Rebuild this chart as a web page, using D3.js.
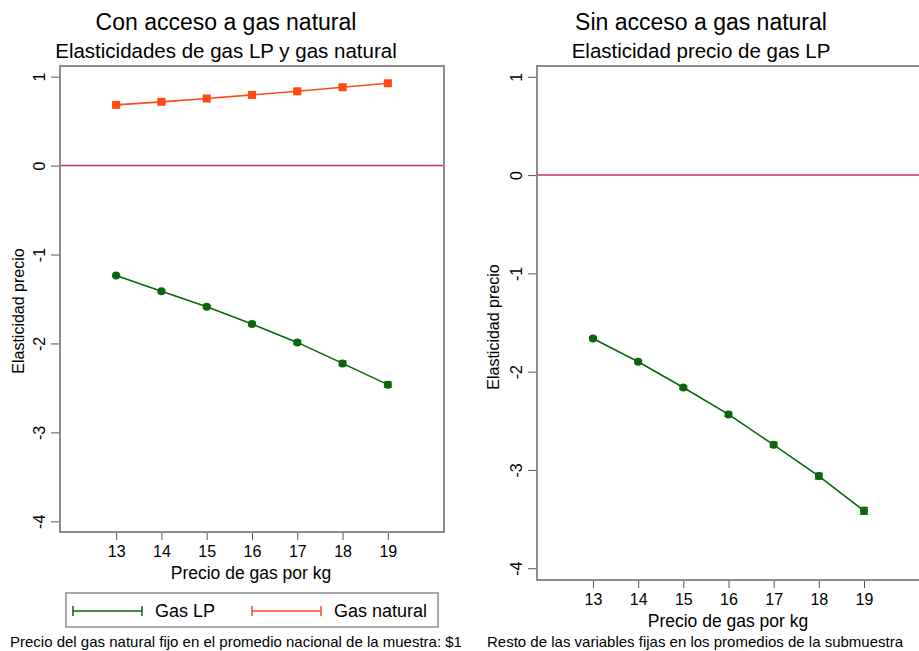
<!DOCTYPE html>
<html>
<head>
<meta charset="utf-8">
<script src="https://cdn.jsdelivr.net/npm/d3@7"></script>
<style>
  body { margin: 0; background: #fff; }
  svg { display: block; font-family: "Liberation Sans", Arial, sans-serif; }
</style>
</head>
<body>
<div id="chart"></div>
<script>
// data
const prices = [13, 14, 15, 16, 17, 18, 19];
const yTicks = [1, 0, -1, -2, -3, -4];

const lpCon = [-1.237, -1.414, -1.586, -1.781, -1.988, -2.224, -2.463];
const lpConCi = [0.010, 0.012, 0.014, 0.017, 0.020, 0.024, 0.028];
const gnCon = [0.683, 0.717, 0.754, 0.795, 0.836, 0.881, 0.926];
const gnConCi = [0.012, 0.013, 0.015, 0.017, 0.020, 0.024, 0.028];
const lpSin = [-1.662, -1.900, -2.161, -2.435, -2.745, -3.063, -3.416];
const lpSinCi = [0.012, 0.014, 0.017, 0.020, 0.024, 0.028, 0.033];

const legendLabels = ["Gas LP", "Gas natural"];
const green = "#0b650b";
const orange = "#ff4a12";
const zeroColor = "#d42a5a";
const frameColor = "#8c8c8c";

const width = 919, height = 651;

const svg = d3.select("#chart").append("svg")
  .attr("width", width)
  .attr("height", height);

const drawPanel = (p) => {
  const x = d3.scaleLinear().domain([11.76, 20.24]).range([p.left, p.right]);
  const y = d3.scaleLinear().domain([-4.12, p.yTop]).range([p.bottom, p.top]);

  const g = svg.append("g");

  // titles
  g.append("text")
    .attr("x", p.titleX).attr("y", 30)
    .attr("text-anchor", "middle")
    .style("font-size", "23px")
    .text(p.title);
  g.append("text")
    .attr("x", p.titleX).attr("y", 58)
    .attr("text-anchor", "middle")
    .style("font-size", "20.5px")
    .text(p.subtitle);

  // zero line
  g.append("line")
    .attr("x1", p.left).attr("x2", p.right)
    .attr("y1", y(0)).attr("y2", y(0))
    .attr("stroke", zeroColor)
    .attr("stroke-width", 1.5);

  // y axis
  const ya = g.append("g")
    .attr("transform", `translate(${p.left},0)`)
    .call(d3.axisLeft(y).tickValues(yTicks).tickSize(9).tickPadding(6).tickFormat(d => String(d)));
  ya.select(".domain").remove();
  ya.selectAll(".tick line").attr("stroke", "#555");
  ya.selectAll(".tick text")
    .style("font-size", "16px")
    .attr("fill", "#000")
    .attr("text-anchor", "middle")
    .attr("dy", null)
    .attr("x", null)
    .attr("transform", "translate(-20,0) rotate(-90)")
    .attr("y", 5);

  // x axis
  const xa = g.append("g")
    .attr("transform", `translate(0,${p.bottom})`)
    .call(d3.axisBottom(x).tickValues(prices).tickSize(8).tickPadding(6).tickFormat(d => String(d)));
  xa.select(".domain").remove();
  xa.selectAll(".tick line").attr("stroke", "#555");
  xa.selectAll(".tick text").style("font-size", "16px").attr("fill", "#000");

  // axis titles
  g.append("text")
    .attr("x", p.xTitleX)
    .attr("y", p.bottom + 47)
    .attr("text-anchor", "middle")
    .style("font-size", "17.5px")
    .text("Precio de gas por kg");
  g.append("text")
    .attr("transform", `translate(${p.yLabelX},${p.yLabelY}) rotate(-90)`)
    .attr("text-anchor", "middle")
    .style("font-size", "16px")
    .text("Elasticidad precio");

  // series
  p.series.forEach(s => {
    const pts = prices.map((v, i) => ({ x: v, y: s.values[i], ci: s.ci[i] }));
    g.append("path")
      .datum(pts)
      .attr("fill", "none")
      .attr("stroke", s.color)
      .attr("stroke-width", 1.6)
      .attr("d", d3.line().x(d => x(d.x)).y(d => y(d.y)));

    const eb = g.append("g").attr("stroke", s.color).attr("stroke-width", 1.5);
    pts.forEach(d => {
      eb.append("line")
        .attr("x1", x(d.x)).attr("x2", x(d.x))
        .attr("y1", y(d.y - d.ci)).attr("y2", y(d.y + d.ci));
      [d.y - d.ci, d.y + d.ci].forEach(v => {
        eb.append("line")
          .attr("x1", x(d.x) - 4).attr("x2", x(d.x) + 4)
          .attr("y1", y(v)).attr("y2", y(v));
      });
    });

    if (s.marker === "circle") {
      g.selectAll(null).data(pts).join("circle")
        .attr("cx", d => x(d.x)).attr("cy", d => y(d.y))
        .attr("r", 4)
        .attr("fill", s.color);
    } else {
      g.selectAll(null).data(pts).join("rect")
        .attr("x", d => x(d.x) - 4).attr("y", d => y(d.y) - 4)
        .attr("width", 8).attr("height", 8)
        .attr("fill", s.color);
    }
  });

  // plot frame
  g.append("rect")
    .attr("x", p.left).attr("y", p.top)
    .attr("width", p.right - p.left).attr("height", p.bottom - p.top)
    .attr("fill", "none")
    .attr("stroke", frameColor)
    .attr("stroke-width", 2);
};

drawPanel({
  left: 60, right: 444, top: 66, bottom: 532, yTop: 1.12,
  titleX: 226, title: "Con acceso a gas natural",
  subtitle: "Elasticidades de gas LP y gas natural",
  xTitleX: 251, yLabelX: 24, yLabelY: 311,
  series: [
    { values: lpCon, ci: lpConCi, color: green, marker: "circle" },
    { values: gnCon, ci: gnConCi, color: orange, marker: "square" }
  ]
});

drawPanel({
  left: 537, right: 920, top: 66, bottom: 580, yTop: 1.11,
  titleX: 701, title: "Sin acceso a gas natural",
  subtitle: "Elasticidad precio de gas LP",
  xTitleX: 728, yLabelX: 499, yLabelY: 327,
  series: [
    { values: lpSin, ci: lpSinCi, color: green, marker: "circle" }
  ]
});

// legend
const legend = svg.append("g");
legend.append("rect")
  .attr("x", 66).attr("y", 593)
  .attr("width", 372).attr("height", 34)
  .attr("fill", "#fff")
  .attr("stroke", frameColor)
  .attr("stroke-width", 1.5);

[green, orange].forEach((c, i) => {
  const x0 = i === 0 ? 73 : 252;
  const gl = legend.append("g").attr("stroke", c).attr("stroke-width", 1.5);
  gl.append("line").attr("x1", x0).attr("x2", x0 + 69).attr("y1", 611).attr("y2", 611);
  gl.append("line").attr("x1", x0).attr("x2", x0).attr("y1", 606).attr("y2", 616);
  gl.append("line").attr("x1", x0 + 69).attr("x2", x0 + 69).attr("y1", 606).attr("y2", 616);
  legend.append("text")
    .attr("x", x0 + 82).attr("y", 617)
    .style("font-size", "18px")
    .text(legendLabels[i]);
});

// footnotes
svg.append("text")
  .attr("x", 10).attr("y", 647)
  .style("font-size", "15px")
  .text("Precio del gas natural fijo en el promedio nacional de la muestra: $1");
svg.append("text")
  .attr("x", 487).attr("y", 647)
  .style("font-size", "15px")
  .text("Resto de las variables fijas en los promedios de la submuestra");
</script>
</body>
</html>
